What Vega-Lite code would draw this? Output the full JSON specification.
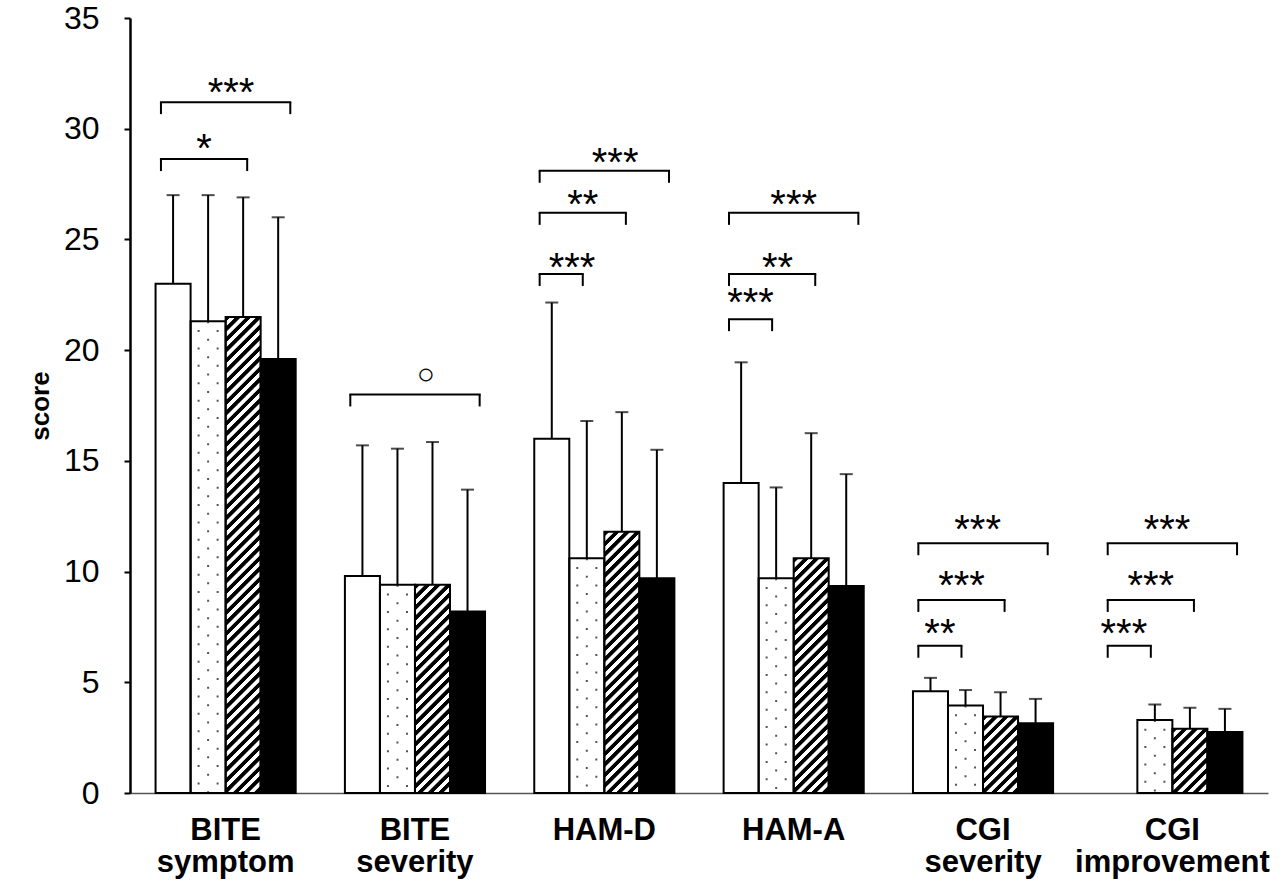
{
  "$schema": "https://vega.github.io/schema/vega-lite/v6.json",
  "width": 1138,
  "height": 775,
  "autosize": {"type": "none"},
  "padding": {"left": 130, "top": 18, "right": 20, "bottom": 89},
  "background": "white",
  "config": {
    "font": "Liberation Sans",
    "view": {"stroke": null},
    "axis": {"grid": false, "labelColor": "black", "titleColor": "black"}
  },
  "params": [
    {
      "name": "hatchStops",
      "value": [
        {"offset":0,"color":"#000"},{"offset":0.0088,"color":"#000"},{"offset":0.0102,"color":"#fff"},{"offset":0.0186,"color":"#fff"},
        {"offset":0.02,"color":"#000"},{"offset":0.0288,"color":"#000"},{"offset":0.0302,"color":"#fff"},{"offset":0.0386,"color":"#fff"},
        {"offset":0.04,"color":"#000"},{"offset":0.0488,"color":"#000"},{"offset":0.0502,"color":"#fff"},{"offset":0.0586,"color":"#fff"},
        {"offset":0.06,"color":"#000"},{"offset":0.0688,"color":"#000"},{"offset":0.0702,"color":"#fff"},{"offset":0.0786,"color":"#fff"},
        {"offset":0.08,"color":"#000"},{"offset":0.0888,"color":"#000"},{"offset":0.0902,"color":"#fff"},{"offset":0.0986,"color":"#fff"},
        {"offset":0.1,"color":"#000"},{"offset":0.1088,"color":"#000"},{"offset":0.1102,"color":"#fff"},{"offset":0.1186,"color":"#fff"},
        {"offset":0.12,"color":"#000"},{"offset":0.1288,"color":"#000"},{"offset":0.1302,"color":"#fff"},{"offset":0.1386,"color":"#fff"},
        {"offset":0.14,"color":"#000"},{"offset":0.1488,"color":"#000"},{"offset":0.1502,"color":"#fff"},{"offset":0.1586,"color":"#fff"},
        {"offset":0.16,"color":"#000"},{"offset":0.1688,"color":"#000"},{"offset":0.1702,"color":"#fff"},{"offset":0.1786,"color":"#fff"},
        {"offset":0.18,"color":"#000"},{"offset":0.1888,"color":"#000"},{"offset":0.1902,"color":"#fff"},{"offset":0.1986,"color":"#fff"},
        {"offset":0.2,"color":"#000"},{"offset":0.2088,"color":"#000"},{"offset":0.2102,"color":"#fff"},{"offset":0.2186,"color":"#fff"},
        {"offset":0.22,"color":"#000"},{"offset":0.2288,"color":"#000"},{"offset":0.2302,"color":"#fff"},{"offset":0.2386,"color":"#fff"},
        {"offset":0.24,"color":"#000"},{"offset":0.2488,"color":"#000"},{"offset":0.2502,"color":"#fff"},{"offset":0.2586,"color":"#fff"},
        {"offset":0.26,"color":"#000"},{"offset":0.2688,"color":"#000"},{"offset":0.2702,"color":"#fff"},{"offset":0.2786,"color":"#fff"},
        {"offset":0.28,"color":"#000"},{"offset":0.2888,"color":"#000"},{"offset":0.2902,"color":"#fff"},{"offset":0.2986,"color":"#fff"},
        {"offset":0.3,"color":"#000"},{"offset":0.3088,"color":"#000"},{"offset":0.3102,"color":"#fff"},{"offset":0.3186,"color":"#fff"},
        {"offset":0.32,"color":"#000"},{"offset":0.3288,"color":"#000"},{"offset":0.3302,"color":"#fff"},{"offset":0.3386,"color":"#fff"},
        {"offset":0.34,"color":"#000"},{"offset":0.3488,"color":"#000"},{"offset":0.3502,"color":"#fff"},{"offset":0.3586,"color":"#fff"},
        {"offset":0.36,"color":"#000"},{"offset":0.3688,"color":"#000"},{"offset":0.3702,"color":"#fff"},{"offset":0.3786,"color":"#fff"},
        {"offset":0.38,"color":"#000"},{"offset":0.3888,"color":"#000"},{"offset":0.3902,"color":"#fff"},{"offset":0.3986,"color":"#fff"},
        {"offset":0.4,"color":"#000"},{"offset":0.4088,"color":"#000"},{"offset":0.4102,"color":"#fff"},{"offset":0.4186,"color":"#fff"},
        {"offset":0.42,"color":"#000"},{"offset":0.4288,"color":"#000"},{"offset":0.4302,"color":"#fff"},{"offset":0.4386,"color":"#fff"},
        {"offset":0.44,"color":"#000"},{"offset":0.4488,"color":"#000"},{"offset":0.4502,"color":"#fff"},{"offset":0.4586,"color":"#fff"},
        {"offset":0.46,"color":"#000"},{"offset":0.4688,"color":"#000"},{"offset":0.4702,"color":"#fff"},{"offset":0.4786,"color":"#fff"},
        {"offset":0.48,"color":"#000"},{"offset":0.4888,"color":"#000"},{"offset":0.4902,"color":"#fff"},{"offset":0.4986,"color":"#fff"},
        {"offset":0.5,"color":"#000"},{"offset":0.5088,"color":"#000"},{"offset":0.5102,"color":"#fff"},{"offset":0.5186,"color":"#fff"},
        {"offset":0.52,"color":"#000"},{"offset":0.5288,"color":"#000"},{"offset":0.5302,"color":"#fff"},{"offset":0.5386,"color":"#fff"},
        {"offset":0.54,"color":"#000"},{"offset":0.5488,"color":"#000"},{"offset":0.5502,"color":"#fff"},{"offset":0.5586,"color":"#fff"},
        {"offset":0.56,"color":"#000"},{"offset":0.5688,"color":"#000"},{"offset":0.5702,"color":"#fff"},{"offset":0.5786,"color":"#fff"},
        {"offset":0.58,"color":"#000"},{"offset":0.5888,"color":"#000"},{"offset":0.5902,"color":"#fff"},{"offset":0.5986,"color":"#fff"},
        {"offset":0.6,"color":"#000"},{"offset":0.6088,"color":"#000"},{"offset":0.6102,"color":"#fff"},{"offset":0.6186,"color":"#fff"},
        {"offset":0.62,"color":"#000"},{"offset":0.6288,"color":"#000"},{"offset":0.6302,"color":"#fff"},{"offset":0.6386,"color":"#fff"},
        {"offset":0.64,"color":"#000"},{"offset":0.6488,"color":"#000"},{"offset":0.6502,"color":"#fff"},{"offset":0.6586,"color":"#fff"},
        {"offset":0.66,"color":"#000"},{"offset":0.6688,"color":"#000"},{"offset":0.6702,"color":"#fff"},{"offset":0.6786,"color":"#fff"},
        {"offset":0.68,"color":"#000"},{"offset":0.6888,"color":"#000"},{"offset":0.6902,"color":"#fff"},{"offset":0.6986,"color":"#fff"},
        {"offset":0.7,"color":"#000"},{"offset":0.7088,"color":"#000"},{"offset":0.7102,"color":"#fff"},{"offset":0.7186,"color":"#fff"},
        {"offset":0.72,"color":"#000"},{"offset":0.7288,"color":"#000"},{"offset":0.7302,"color":"#fff"},{"offset":0.7386,"color":"#fff"},
        {"offset":0.74,"color":"#000"},{"offset":0.7488,"color":"#000"},{"offset":0.7502,"color":"#fff"},{"offset":0.7586,"color":"#fff"},
        {"offset":0.76,"color":"#000"},{"offset":0.7688,"color":"#000"},{"offset":0.7702,"color":"#fff"},{"offset":0.7786,"color":"#fff"},
        {"offset":0.78,"color":"#000"},{"offset":0.7888,"color":"#000"},{"offset":0.7902,"color":"#fff"},{"offset":0.7986,"color":"#fff"},
        {"offset":0.8,"color":"#000"},{"offset":0.8088,"color":"#000"},{"offset":0.8102,"color":"#fff"},{"offset":0.8186,"color":"#fff"},
        {"offset":0.82,"color":"#000"},{"offset":0.8288,"color":"#000"},{"offset":0.8302,"color":"#fff"},{"offset":0.8386,"color":"#fff"},
        {"offset":0.84,"color":"#000"},{"offset":0.8488,"color":"#000"},{"offset":0.8502,"color":"#fff"},{"offset":0.8586,"color":"#fff"},
        {"offset":0.86,"color":"#000"},{"offset":0.8688,"color":"#000"},{"offset":0.8702,"color":"#fff"},{"offset":0.8786,"color":"#fff"},
        {"offset":0.88,"color":"#000"},{"offset":0.8888,"color":"#000"},{"offset":0.8902,"color":"#fff"},{"offset":0.8986,"color":"#fff"},
        {"offset":0.9,"color":"#000"},{"offset":0.9088,"color":"#000"},{"offset":0.9102,"color":"#fff"},{"offset":0.9186,"color":"#fff"},
        {"offset":0.92,"color":"#000"},{"offset":0.9288,"color":"#000"},{"offset":0.9302,"color":"#fff"},{"offset":0.9386,"color":"#fff"},
        {"offset":0.94,"color":"#000"},{"offset":0.9488,"color":"#000"},{"offset":0.9502,"color":"#fff"},{"offset":0.9586,"color":"#fff"},
        {"offset":0.96,"color":"#000"},{"offset":0.9688,"color":"#000"},{"offset":0.9702,"color":"#fff"},{"offset":0.9786,"color":"#fff"},
        {"offset":0.98,"color":"#000"},{"offset":0.9888,"color":"#000"},{"offset":0.9902,"color":"#fff"},{"offset":0.9986,"color":"#fff"}
      ]
    }
  ],
  "datasets": {
    "bars": [
      {"group":"BITE symptom","time":"T0","mean":23.0,"upper":27.0},
      {"group":"BITE symptom","time":"T1","mean":21.3,"upper":27.0},
      {"group":"BITE symptom","time":"T2","mean":21.5,"upper":26.9},
      {"group":"BITE symptom","time":"T3","mean":19.6,"upper":26.0},
      {"group":"BITE severity","time":"T0","mean":9.8,"upper":15.7},
      {"group":"BITE severity","time":"T1","mean":9.4,"upper":15.55},
      {"group":"BITE severity","time":"T2","mean":9.4,"upper":15.85},
      {"group":"BITE severity","time":"T3","mean":8.2,"upper":13.7},
      {"group":"HAM-D","time":"T0","mean":16.0,"upper":22.15},
      {"group":"HAM-D","time":"T1","mean":10.6,"upper":16.8},
      {"group":"HAM-D","time":"T2","mean":11.8,"upper":17.2},
      {"group":"HAM-D","time":"T3","mean":9.7,"upper":15.5},
      {"group":"HAM-A","time":"T0","mean":14.0,"upper":19.45},
      {"group":"HAM-A","time":"T1","mean":9.7,"upper":13.8},
      {"group":"HAM-A","time":"T2","mean":10.6,"upper":16.25},
      {"group":"HAM-A","time":"T3","mean":9.35,"upper":14.4},
      {"group":"CGI severity","time":"T0","mean":4.6,"upper":5.2},
      {"group":"CGI severity","time":"T1","mean":3.95,"upper":4.65},
      {"group":"CGI severity","time":"T2","mean":3.45,"upper":4.55},
      {"group":"CGI severity","time":"T3","mean":3.15,"upper":4.25},
      {"group":"CGI improvement","time":"T1","mean":3.3,"upper":4.0},
      {"group":"CGI improvement","time":"T2","mean":2.9,"upper":3.85},
      {"group":"CGI improvement","time":"T3","mean":2.75,"upper":3.8}
    ],
    "brackets": [
      {"id":1,"group":"BITE symptom","from":0,"to":2,"y":28.63,"label":"*","at":1,"ly":28.5},
      {"id":2,"group":"BITE symptom","from":0,"to":3,"y":31.2,"label":"***","at":1.625,"ly":31.03},
      {"id":3,"group":"BITE severity","from":0,"to":3,"y":18.0,"label":"○","at":1.75,"ly":18.47},
      {"id":4,"group":"HAM-D","from":0,"to":3,"y":28.1,"label":"***","at":1.75,"ly":27.87},
      {"id":5,"group":"HAM-D","from":0,"to":2,"y":26.2,"label":"**","at":1,"ly":25.98},
      {"id":6,"group":"HAM-D","from":0,"to":1,"y":23.44,"label":"***","at":0.75,"ly":23.14},
      {"id":7,"group":"HAM-A","from":0,"to":3,"y":26.2,"label":"***","at":1.5,"ly":25.96},
      {"id":8,"group":"HAM-A","from":0,"to":2,"y":23.44,"label":"**","at":1.125,"ly":23.14},
      {"id":9,"group":"HAM-A","from":0,"to":1,"y":21.4,"label":"***","at":0.5,"ly":21.52},
      {"id":10,"group":"CGI severity","from":0,"to":3,"y":11.28,"label":"***","at":1.375,"ly":11.28},
      {"id":11,"group":"CGI severity","from":0,"to":2,"y":8.72,"label":"***","at":1,"ly":8.77},
      {"id":12,"group":"CGI severity","from":0,"to":1,"y":6.65,"label":"**","at":0.5,"ly":6.61},
      {"id":13,"group":"CGI improvement","from":0,"to":3,"y":11.28,"label":"***","at":1.375,"ly":11.28},
      {"id":14,"group":"CGI improvement","from":0,"to":2,"y":8.72,"label":"***","at":1,"ly":8.77},
      {"id":15,"group":"CGI improvement","from":0,"to":1,"y":6.65,"label":"***","at":0.375,"ly":6.61}
    ]
  },
  "data": {"name": "bars"},
  "resolve": {"scale": {"xOffset": "independent"}},
  "layer": [
    {
      "mark": {"type": "bar"},
      "encoding": {
        "x": {"field": "group", "type": "nominal", "title": null,
          "scale": {"domain": ["BITE symptom","BITE severity","HAM-D","HAM-A","CGI severity","CGI improvement"], "paddingInner": 0.26, "paddingOuter": 0.135},
          "axis": {"labelExpr": "split(datum.label, ' ')", "labelFontSize": 31, "labelFontWeight": "bold", "labelColor": "black", "labelAngle": 0, "labelLineHeight": 32, "labelPadding": 22, "labelBaseline": "top", "labelLimit": 400, "ticks": false, "domainColor": "#555", "domainWidth": 1.5}},
        "xOffset": {"field": "time", "type": "nominal", "scale": {"domain": ["T0","T1","T2","T3"], "paddingInner": 0, "paddingOuter": 0}},
        "y": {"field": "mean", "type": "quantitative", "title": "score",
          "scale": {"domain": [0, 35], "nice": false},
          "axis": {"values": [0,5,10,15,20,25,30,35], "labelFontSize": 32, "labelColor": "black", "labelPadding": 25, "tickSize": 6, "tickWidth": 2, "tickColor": "black", "domainColor": "black", "domainWidth": 2.5, "titleFontSize": 26, "titleFontWeight": "bold", "titleColor": "black", "titlePadding": 10}},
        "fill": {"field": "time", "type": "nominal", "scale": {"domain": ["T0","T1","T2","T3"], "range": ["white","white","white","black"]}, "legend": null}
      }
    },
    {
      "transform": [{"filter": "datum.time === 'T2'"}],
      "mark": {"type": "bar", "fill": {"expr": "{gradient: 'linear', x1: 0, y1: 0, x2: 35*525/(1225+pow(scale('y',0)-scale('y',datum.mean),2)), y2: (scale('y',0)-scale('y',datum.mean))*525/(1225+pow(scale('y',0)-scale('y',datum.mean),2)), stops: hatchStops}"}},
      "encoding": {
        "x": {"field": "group", "type": "nominal", "title": null},
        "xOffset": {"field": "time", "type": "nominal", "scale": {"domain": ["T0","T1","T2","T3"], "paddingInner": 0, "paddingOuter": 0}},
        "y": {"field": "mean", "type": "quantitative", "title": "score"}
      }
    },
    {
      "transform": [{"filter": "datum.time === 'T1'"}],
      "mark": {"type": "rule", "color": "#555", "strokeWidth": 2, "strokeDash": [2, 15.4], "strokeDashOffset": 8.7},
      "encoding": {
        "x": {"field": "group", "type": "nominal", "title": null, "bandPosition": 0.307},
        "y": {"field": "mean", "type": "quantitative", "title": "score"},
        "y2": {"datum": 0}
      }
    },
    {
      "transform": [{"filter": "datum.time === 'T1'"}],
      "mark": {"type": "rule", "color": "#555", "strokeWidth": 2, "strokeDash": [2, 15.4], "strokeDashOffset": 0},
      "encoding": {
        "x": {"field": "group", "type": "nominal", "title": null, "bandPosition": 0.375},
        "y": {"field": "mean", "type": "quantitative", "title": "score"},
        "y2": {"datum": 0}
      }
    },
    {
      "transform": [{"filter": "datum.time === 'T1'"}],
      "mark": {"type": "rule", "color": "#555", "strokeWidth": 2, "strokeDash": [2, 15.4], "strokeDashOffset": 8.7},
      "encoding": {
        "x": {"field": "group", "type": "nominal", "title": null, "bandPosition": 0.443},
        "y": {"field": "mean", "type": "quantitative", "title": "score"},
        "y2": {"datum": 0}
      }
    },
    {
      "mark": {"type": "rule", "color": "black", "strokeWidth": 2},
      "encoding": {
        "x": {"field": "group", "type": "nominal", "title": null},
        "xOffset": {"field": "time", "type": "nominal", "scale": {"domain": ["T0","T1","T2","T3"], "paddingInner": 0, "paddingOuter": 0}},
        "y": {"field": "mean", "type": "quantitative", "title": "score"},
        "y2": {"field": "upper"}
      }
    },
    {
      "mark": {"type": "tick", "color": "black", "thickness": 2, "size": 13},
      "encoding": {
        "x": {"field": "group", "type": "nominal", "title": null},
        "xOffset": {"field": "time", "type": "nominal", "scale": {"domain": ["T0","T1","T2","T3"], "paddingInner": 0, "paddingOuter": 0}},
        "y": {"field": "upper", "type": "quantitative", "title": "score"}
      }
    },
    {
      "mark": {"type": "bar", "fill": "transparent", "stroke": "black", "strokeWidth": 2},
      "encoding": {
        "x": {"field": "group", "type": "nominal", "title": null},
        "xOffset": {"field": "time", "type": "nominal", "scale": {"domain": ["T0","T1","T2","T3"], "paddingInner": 0, "paddingOuter": 0}},
        "y": {"field": "mean", "type": "quantitative", "title": "score"}
      }
    },
    {
      "data": {"name": "brackets"},
      "transform": [{"fold": ["from", "to"], "as": ["end", "pos"]}],
      "mark": {"type": "line", "color": "black", "strokeWidth": 2, "strokeCap": "square"},
      "encoding": {
        "x": {"field": "group", "type": "nominal", "title": null},
        "xOffset": {"field": "pos", "type": "ordinal", "scale": {"type": "point", "padding": 4, "domain": [0,0.125,0.25,0.375,0.5,0.625,0.75,0.875,1,1.125,1.25,1.375,1.5,1.625,1.75,1.875,2,2.125,2.25,2.375,2.5,2.625,2.75,2.875,3]}},
        "y": {"field": "y", "type": "quantitative", "title": "score"},
        "detail": {"field": "id", "type": "nominal"}
      }
    },
    {
      "data": {"name": "brackets"},
      "transform": [{"fold": ["from", "to"], "as": ["end", "pos"]}],
      "mark": {"type": "rule", "color": "black", "strokeWidth": 2, "y2Offset": 12},
      "encoding": {
        "x": {"field": "group", "type": "nominal", "title": null},
        "xOffset": {"field": "pos", "type": "ordinal", "scale": {"type": "point", "padding": 4, "domain": [0,0.125,0.25,0.375,0.5,0.625,0.75,0.875,1,1.125,1.25,1.375,1.5,1.625,1.75,1.875,2,2.125,2.25,2.375,2.5,2.625,2.75,2.875,3]}},
        "y": {"field": "y", "type": "quantitative", "title": "score"},
        "y2": {"field": "y"}
      }
    },
    {
      "data": {"name": "brackets"},
      "transform": [{"filter": "datum.label !== '○'"}],
      "mark": {"type": "text", "fontSize": 40, "align": "center", "baseline": "alphabetic", "color": "black", "font": "Liberation Sans"},
      "encoding": {
        "x": {"field": "group", "type": "nominal", "title": null},
        "xOffset": {"field": "at", "type": "ordinal", "scale": {"type": "point", "padding": 4, "domain": [0,0.125,0.25,0.375,0.5,0.625,0.75,0.875,1,1.125,1.25,1.375,1.5,1.625,1.75,1.875,2,2.125,2.25,2.375,2.5,2.625,2.75,2.875,3]}},
        "y": {"field": "ly", "type": "quantitative", "title": "score"},
        "text": {"field": "label"}
      }
    },
    {
      "data": {"name": "brackets"},
      "transform": [{"filter": "datum.label === '○'"}],
      "mark": {"type": "text", "fontSize": 30, "align": "center", "baseline": "alphabetic", "color": "black", "font": "Liberation Sans"},
      "encoding": {
        "x": {"field": "group", "type": "nominal", "title": null},
        "xOffset": {"field": "at", "type": "ordinal", "scale": {"type": "point", "padding": 4, "domain": [0,0.125,0.25,0.375,0.5,0.625,0.75,0.875,1,1.125,1.25,1.375,1.5,1.625,1.75,1.875,2,2.125,2.25,2.375,2.5,2.625,2.75,2.875,3]}},
        "y": {"field": "ly", "type": "quantitative", "title": "score"},
        "text": {"field": "label"}
      }
    }
  ]
}
